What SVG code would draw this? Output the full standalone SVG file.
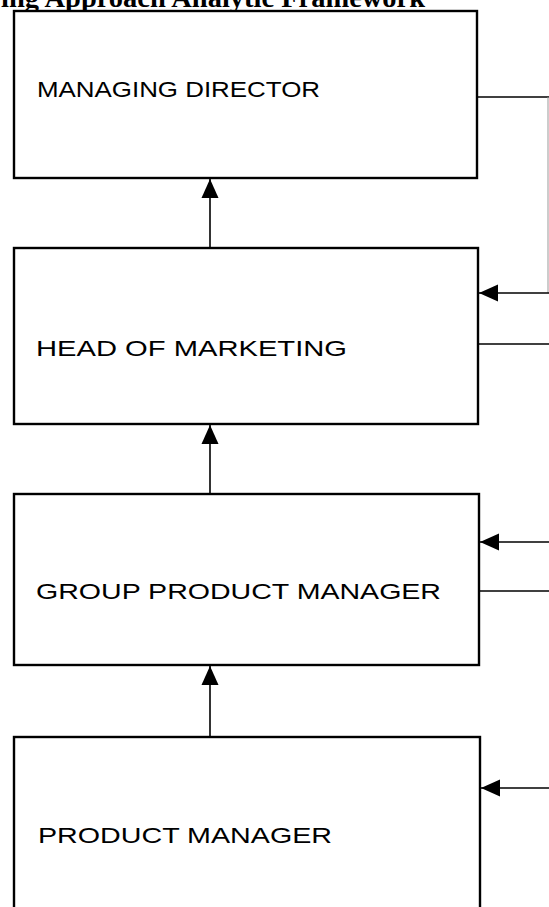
<svg xmlns="http://www.w3.org/2000/svg" width="549" height="907" viewBox="0 0 549 907">
  <style>
    .box { fill: #ffffff; stroke: #000000; stroke-width: 2.4; }
    .label { font-family: "Liberation Sans", Arial, sans-serif; font-size: 22px; fill: #000000; }
    .title { font-family: "Liberation Serif", "Times New Roman", serif; font-weight: bold; font-size: 28px; fill: #000000; }
    .conn { fill: none; stroke: #000000; stroke-width: 1.6; }
    .thin { fill: none; stroke: #999999; stroke-width: 1; }
  </style>
  <defs>
    <marker id="arrow" markerUnits="userSpaceOnUse" markerWidth="19" markerHeight="19" viewBox="0 0 19 19" refX="19" refY="9.5" orient="auto">
      <path d="M0,1 L19,9.5 L0,18 Z" fill="#000000"/>
    </marker>
  </defs>
  <rect width="549" height="907" fill="#ffffff"/>
  <text class="title" x="1" y="7" textLength="424" lengthAdjust="spacingAndGlyphs">ing Approach Analytic Framework</text>

  <g id="managing-director">
    <rect class="box" x="14" y="11" width="463" height="167"/>
    <text class="label" x="37" y="97" textLength="283" lengthAdjust="spacingAndGlyphs">MANAGING DIRECTOR</text>
  </g>
  <g id="head-of-marketing">
    <rect class="box" x="14" y="248" width="464" height="176"/>
    <text class="label" x="36" y="356" textLength="311" lengthAdjust="spacingAndGlyphs">HEAD OF MARKETING</text>
  </g>
  <g id="group-product-manager">
    <rect class="box" x="14" y="494" width="465" height="171"/>
    <text class="label" x="36" y="599" textLength="405" lengthAdjust="spacingAndGlyphs">GROUP PRODUCT MANAGER</text>
  </g>
  <g id="product-manager">
    <rect class="box" x="14" y="737" width="466" height="200"/>
    <text class="label" x="38" y="843" textLength="294" lengthAdjust="spacingAndGlyphs">PRODUCT MANAGER</text>
  </g>

  <g id="connectors">
    <line class="conn" x1="210" y1="248" x2="210" y2="179" marker-end="url(#arrow)"/>
    <line class="conn" x1="210" y1="494" x2="210" y2="425" marker-end="url(#arrow)"/>
    <line class="conn" x1="210" y1="737" x2="210" y2="666" marker-end="url(#arrow)"/>

    <line class="conn" x1="477" y1="97" x2="549" y2="97"/>
    <line class="thin" x1="548" y1="97" x2="548" y2="293"/>
    <line class="conn" x1="549" y1="293" x2="479" y2="293" marker-end="url(#arrow)"/>
    <line class="conn" x1="478" y1="344" x2="549" y2="344"/>
    <line class="conn" x1="549" y1="542" x2="480" y2="542" marker-end="url(#arrow)"/>
    <line class="conn" x1="479" y1="591" x2="549" y2="591"/>
    <line class="conn" x1="549" y1="788" x2="481" y2="788" marker-end="url(#arrow)"/>
  </g>
</svg>
